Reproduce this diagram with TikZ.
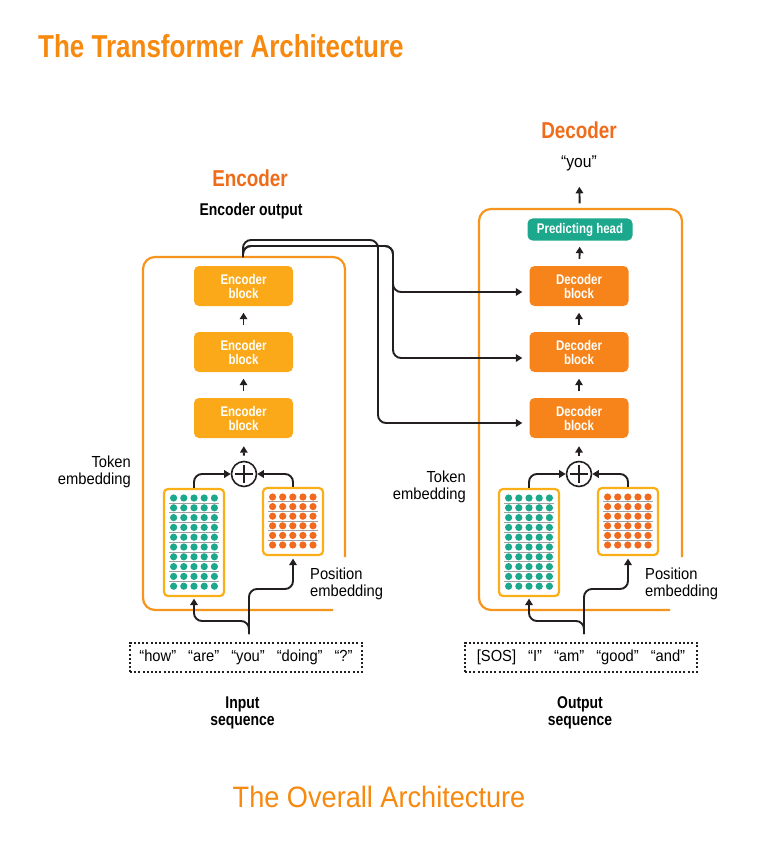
\documentclass[tikz,border=0pt]{standalone}
\usepackage{fontspec}
\setmainfont{Liberation Sans}[FakeStretch=0.92]
\newfontfamily\bc{Liberation Sans}[FakeStretch=0.82]
\usetikzlibrary{arrows.meta}
\definecolor{titlec}{HTML}{F7890F}
\definecolor{headc}{HTML}{EF6C1A}
\definecolor{boxc}{HTML}{F7941D}
\definecolor{encc}{HTML}{FBA919}
\definecolor{decc}{HTML}{F7841A}
\definecolor{matc}{HTML}{FBAF17}
\definecolor{tealc}{HTML}{1BA88C}
\definecolor{posc}{HTML}{F26A1E}
\definecolor{grayc}{HTML}{A0A0A0}
\definecolor{arrowc}{HTML}{231F20}
\tikzset{
  arr/.style={draw=arrowc, line width=1.9pt, -{Triangle[length=6.5pt,width=7.5pt]}},
  blk/.style={rounded corners=5pt, minimum width=99pt, minimum height=40pt, inner sep=0pt,
    text=white, font=\bc\bfseries\fontsize{14}{14}\selectfont, align=center},
  encblk/.style={blk, fill=encc},
  decblk/.style={blk, fill=decc},
  headblk/.style={rounded corners=5pt, minimum width=105pt, minimum height=22pt, inner sep=0pt,
    fill=tealc, text=white, font=\bc\bfseries\fontsize{14}{14}\selectfont},
  outerbox/.style={draw=boxc, line width=2.2pt, rounded corners=12pt},
  matbox/.style={draw=matc, line width=2.2pt, rounded corners=4pt, fill=white, minimum width=60pt, inner sep=0pt},
  gline/.style={draw=grayc, line width=0.8pt},
  plusnode/.style={circle, draw=arrowc, line width=1.6pt, minimum size=25pt, inner sep=0pt, fill=white,
    path picture={\draw[arrowc, line width=1.6pt]
      ([yshift=-3.5pt]path picture bounding box.north) -- ([yshift=3.5pt]path picture bounding box.south)
      ([xshift=3.5pt]path picture bounding box.west) -- ([xshift=-3.5pt]path picture bounding box.east);}},
  lbl/.style={inner sep=0pt, font=\fontsize{16}{17}\selectfont},
  boldlbl/.style={inner sep=0pt, font=\bc\bfseries\fontsize{17}{17}\selectfont, align=center},
  heading/.style={inner sep=0pt, text=headc, font=\bc\bfseries\fontsize{23}{23}\selectfont},
  tokbox/.style={draw=arrowc, line width=2pt, dash pattern=on 2pt off 2.2pt, minimum width=232pt,
    minimum height=29pt, inner sep=0pt, font=\fontsize{16}{18}\selectfont},
}
\newcommand\embedpart[3]{%
\begin{scope}[xshift=#2]
  \node[matbox, minimum height=107pt] (#1tok) at (194,542.5) {};
  \node[matbox, minimum height=67pt] (#1pos) at (293,521.5) {};
  \foreach \j in {0,...,8}{\draw[gline] (169,502.9+9.8*\j) -- (219,502.9+9.8*\j);}
  \foreach \i in {0,...,4}{\foreach \j in {0,...,9}{\fill[tealc] (173.6+10.2*\i,498+9.8*\j) circle (3.6pt);}}
  \foreach \j in {0,...,4}{\draw[gline] (268,501.8+9.6*\j) -- (318,501.8+9.6*\j);}
  \foreach \i in {0,...,4}{\foreach \j in {0,...,5}{\fill[posc] (272.6+10.1*\i,497+9.6*\j) circle (3.6pt);}}
  \node[plusnode] (#1plus) at (244,474) {};
  \draw[arr, rounded corners=8pt] (#1tok.north) |- (#1plus.west);
  \draw[arr, rounded corners=8pt] (#1pos.north) |- (#1plus.east);
  \coordinate (#1stem) at (249,634);
  \draw[arr, rounded corners=8pt, shorten >=1.5pt] (#1stem) -- (249,621) -| (#1tok.south);
  \draw[arr, rounded corners=8pt, shorten >=2.5pt] (#1stem) -- (249,589) -| (#1pos.south);
  \node[lbl, align=right, anchor=east] (#1toklbl) at (131,#3) {Token\\embedding};
  \node[lbl, align=left, anchor=west] (#1poslbl) at (310,583.5) {Position\\embedding};
\end{scope}}
\begin{document}
\begin{tikzpicture}[x=1pt,y=-1pt]
\useasboundingbox (0,0) rectangle (768,850);
\fill[white] (0,0) rectangle (768,850);

% titles
\node[inner sep=0pt, anchor=base west, text=titlec, font=\bc\bfseries\fontsize{31.7}{32}\selectfont] (title) at (38,58) {The Transformer Architecture};
\node[inner sep=0pt, anchor=base, text=titlec, font=\fontsize{29.5}{30}\selectfont] (subtitle) at (379,807) {The Overall Architecture};

\node[heading] (enchead) at (250,178) {Encoder};
\node[heading] (dechead) at (579,130) {Decoder};
\node[boldlbl] (encout) at (251,211) {Encoder output};
\node[lbl, font=\fontsize{17}{17}\selectfont] (you) at (579,163) {“you”};

% outer boxes
\draw[outerbox] (333,610) -- (143,610) -- (143,257) -- (345,257) -- (345,557);
\draw[outerbox] (670,610) -- (479,610) -- (479,209) -- (682,209) -- (682,557);

% blocks
\node[encblk] (eb1) at (243.5,286) {Encoder\\block};
\node[encblk] (eb2) at (243.5,352) {Encoder\\block};
\node[encblk] (eb3) at (243.5,418) {Encoder\\block};
\node[decblk] (db1) at (579,286) {Decoder\\block};
\node[decblk] (db2) at (579,352) {Decoder\\block};
\node[decblk] (db3) at (579,418) {Decoder\\block};
\node[headblk] (ph) at (580,229.5) {Predicting head};

% embeddings
\embedpart{e}{0pt}{471.5}
\embedpart{d}{335pt}{487}

% vertical arrows
\draw[arr, shorten <=6.5pt, shorten >=6.5pt] (eb2) -- (eb1);
\draw[arr, shorten <=6.5pt, shorten >=6.5pt] (eb3) -- (eb2);
\draw[arr, shorten <=5pt, shorten >=8pt] (eplus) -- (eb3);
\draw[arr, shorten <=6.5pt, shorten >=6.5pt] (db2) -- (db1);
\draw[arr, shorten <=6.5pt, shorten >=6.5pt] (db3) -- (db2);
\draw[arr, shorten <=5pt, shorten >=8pt] (dplus) -- (db3);
\draw[arr, shorten <=7pt, shorten >=6pt] (db1) -- (ph);
\draw[arr, shorten <=15pt, shorten >=16pt] (ph.north) -- (you.south);

% encoder output connections
\coordinate (eo) at (243,257);
\draw[arr, rounded corners=8pt, shorten >=7pt] (eo) -- (243,240) -- (378,240) |- ([yshift=-5pt]db3.west);
\draw[arr, rounded corners=8pt, shorten >=7pt] (eo) -- (243,246) -- (393,246) |- ([yshift=-6pt]db2.west);
\draw[arr, rounded corners=8pt, shorten >=7pt] (eo) -- (243,246) -- (393,246) |- ([yshift=-6pt]db1.west);

% sequences
\node[tokbox] (inseq) at (246,657) {“how”\hspace{12pt}“are”\hspace{12pt}“you”\hspace{12pt}“doing”\hspace{12pt}“?”};
\node[tokbox] (outseq) at (581,657) {[SOS]\hspace{12pt}“I”\hspace{12pt}“am”\hspace{12pt}“good”\hspace{12pt}“and”};
\node[boldlbl] (inlbl) at (242.5,712.5) {Input\\sequence};
\node[boldlbl] (outlbl) at (580,712.5) {Output\\sequence};
\end{tikzpicture}
\end{document}
